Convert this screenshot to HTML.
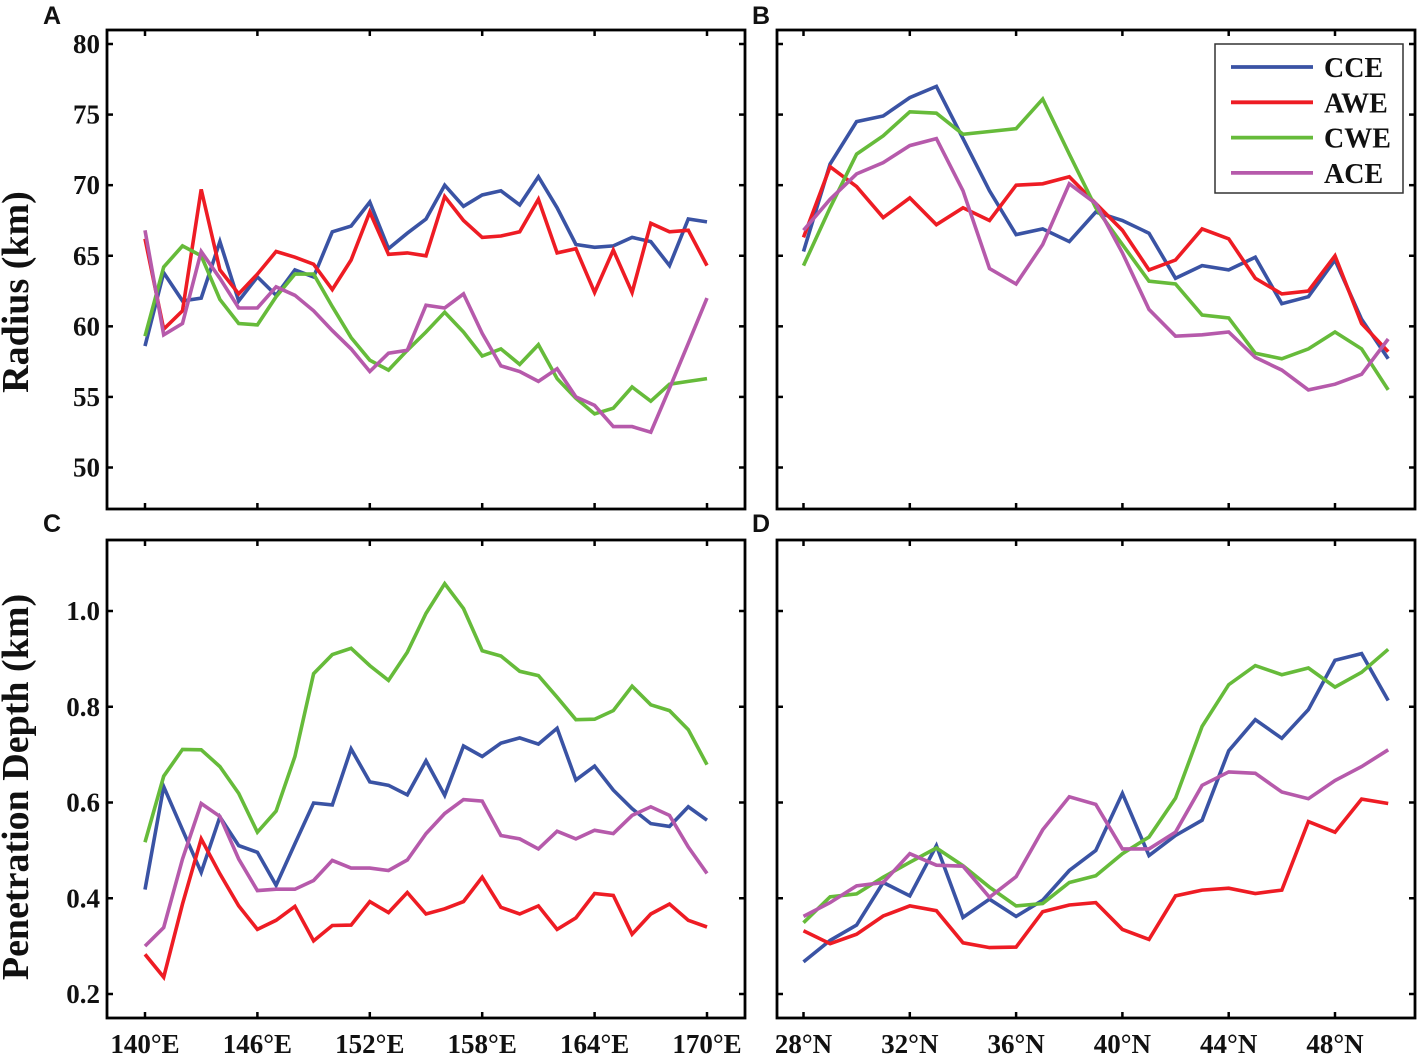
<!DOCTYPE html>
<html><head><meta charset="utf-8"><style>
html,body{margin:0;padding:0;background:#fff;}
svg{display:block;}
text{font-family:"Liberation Serif",serif;font-weight:bold;fill:#111;}
.lt{font-family:"Liberation Sans",sans-serif;}
</style></head><body>
<svg id="fig" width="1417" height="1054" viewBox="0 0 1417 1054" xmlns="http://www.w3.org/2000/svg"></svg>
<script>
// ---- data ----
const lonCats = [140,141,142,143,144,145,146,147,148,149,150,151,152,153,154,155,156,157,158,159,160,161,162,163,164,165,166,167,168,169,170];
const latCats = [28,29,30,31,32,33,34,35,36,37,38,39,40,41,42,43,44,45,46,47,48,49,50];
const seriesNames = ['CCE','AWE','CWE','ACE'];
const seriesColors = ['#3a53a4','#ee1c24','#66bb3a','#b65aab'];
// Panel A radius vs longitude
const aCCE = [58.6,63.8,61.8,62.0,66.0,61.8,63.5,62.2,64.0,63.5,66.7,67.1,68.8,65.5,66.6,67.6,70.0,68.5,69.3,69.6,68.6,70.6,68.4,65.8,65.6,65.7,66.3,66.0,64.3,67.6,67.4];
const aAWE = [66.2,59.8,61.1,69.7,64.0,62.3,63.7,65.3,64.9,64.4,62.6,64.7,68.1,65.1,65.2,65.0,69.2,67.5,66.3,66.4,66.7,69.0,65.2,65.5,62.4,65.4,62.4,67.3,66.7,66.8,64.3];
const aCWE = [59.3,64.2,65.7,65.0,61.9,60.2,60.1,62.1,63.7,63.7,61.4,59.2,57.6,56.9,58.3,59.6,61.0,59.6,57.9,58.4,57.3,58.7,56.3,54.9,53.8,54.2,55.7,54.7,55.9,56.1,56.3];
const aACE = [66.8,59.4,60.2,65.3,63.4,61.3,61.3,62.8,62.2,61.1,59.7,58.4,56.8,58.1,58.3,61.5,61.3,62.3,59.5,57.2,56.8,56.1,57.0,55.0,54.4,52.9,52.9,52.5,55.6,58.8,62.0];
// Panel B radius vs latitude
const bCCE = [65.3,71.5,74.5,74.9,76.2,77.0,73.3,69.6,66.5,66.9,66.0,68.1,67.5,66.6,63.4,64.3,64.0,64.9,61.6,62.1,64.7,60.5,57.7];
const bAWE = [66.3,71.3,69.9,67.7,69.1,67.2,68.4,67.5,70.0,70.1,70.6,68.7,66.8,64.0,64.7,66.9,66.2,63.4,62.3,62.5,65.0,60.2,58.2];
const bCWE = [64.3,68.4,72.2,73.5,75.2,75.1,73.6,73.8,74.0,76.1,72.2,68.4,65.8,63.2,63.0,60.8,60.6,58.1,57.7,58.4,59.6,58.4,55.5];
const bACE = [66.8,69.0,70.8,71.6,72.8,73.3,69.6,64.1,63.0,65.8,70.1,68.7,65.2,61.2,59.3,59.4,59.6,57.8,56.9,55.5,55.9,56.6,59.1];
// Panel C depth vs longitude
const cCCE = [0.418,0.633,0.543,0.454,0.570,0.510,0.496,0.427,0.514,0.599,0.595,0.712,0.643,0.636,0.616,0.687,0.615,0.718,0.696,0.724,0.735,0.722,0.755,0.647,0.676,0.626,0.587,0.556,0.550,0.591,0.563];
const cAWE = [0.283,0.235,0.388,0.524,0.451,0.384,0.335,0.354,0.383,0.311,0.343,0.344,0.393,0.370,0.412,0.367,0.378,0.393,0.444,0.381,0.367,0.384,0.335,0.359,0.410,0.406,0.325,0.367,0.388,0.354,0.340];
const cCWE = [0.517,0.655,0.711,0.710,0.675,0.619,0.538,0.582,0.696,0.869,0.909,0.922,0.886,0.855,0.914,0.995,1.057,1.005,0.917,0.906,0.874,0.865,0.820,0.773,0.774,0.792,0.843,0.804,0.792,0.752,0.679];
const cACE = [0.300,0.339,0.482,0.598,0.571,0.482,0.416,0.419,0.419,0.437,0.479,0.463,0.463,0.458,0.480,0.535,0.577,0.606,0.603,0.531,0.524,0.503,0.540,0.524,0.542,0.535,0.573,0.591,0.573,0.507,0.452];
// Panel D depth vs latitude
const dCCE = [0.267,0.312,0.344,0.433,0.405,0.510,0.360,0.398,0.362,0.396,0.458,0.500,0.619,0.489,0.531,0.563,0.708,0.773,0.734,0.794,0.897,0.911,0.813];
const dAWE = [0.332,0.305,0.325,0.363,0.384,0.374,0.307,0.297,0.298,0.372,0.386,0.391,0.335,0.314,0.405,0.417,0.421,0.410,0.417,0.560,0.538,0.607,0.598];
const dCWE = [0.349,0.403,0.409,0.444,0.475,0.505,0.468,0.423,0.384,0.389,0.433,0.447,0.493,0.528,0.609,0.759,0.846,0.886,0.867,0.881,0.841,0.872,0.920];
const dACE = [0.362,0.391,0.426,0.433,0.493,0.469,0.467,0.402,0.445,0.543,0.612,0.596,0.503,0.503,0.538,0.636,0.664,0.661,0.622,0.608,0.646,0.675,0.710];
const radiusTicks = [50,55,60,65,70,75,80];
const depthTicks = [0.2,0.4,0.6,0.8,1.0];
const lonTicks = [140,146,152,158,164,170];
const latTicks = [28,32,36,40,44,48];
const lonTickLabels = ['140°E','146°E','152°E','158°E','164°E','170°E'];
const latTickLabels = ['28°N','32°N','36°N','40°N','44°N','48°N'];

const NS='http://www.w3.org/2000/svg';
const svg=document.getElementById('fig');
function mk(tag,attrs,parent){const e=document.createElementNS(NS,tag);for(const k in attrs)e.setAttribute(k,attrs[k]);(parent||svg).appendChild(e);return e;}

function linScale(d0,d1,r0,r1){return v=>r0+(v-d0)*(r1-r0)/(d1-d0);}
const xLon=linScale(140,170,145,707);
const xLat=linScale(28,48,803.5,1335);
const yRad=linScale(50,80,467.5,44);
const yDep=linScale(0.2,1.0,994,611);

function panel(id,box,xs,ys,xTickVals,xTickLbls,showX,yTickVals,yFmt,cats,series,letter,lx,ly){
  const g=mk('g',{});
  
  
  const [x0,y0,x1,y1]=box;
  const t=mk('text',{x:lx,y:ly,'font-size':25,class:'lt'},g);
  t.textContent=letter;
  
  
  series.forEach((vals,si)=>{
    const pts=vals.map((v,i)=>xs(cats[i]).toFixed(1)+','+ys(v).toFixed(1)).join(' ');
    const pl=mk('polyline',{points:pts,fill:'none',stroke:seriesColors[si],'stroke-width':3.6,'stroke-linejoin':'miter'},g);
    
    
  });
  const fr=mk('rect',{x:x0,y:y0,width:x1-x0,height:y1-y0,fill:'none',stroke:'#000','stroke-width':2.8},g);
  
  
  xTickVals.forEach((v,i)=>{
    const x=xs(v);
    mk('line',{x1:x,x2:x,y1:y1,y2:y1-6,stroke:'#000','stroke-width':2.5},g);
    mk('line',{x1:x,x2:x,y1:y0,y2:y0+6,stroke:'#000','stroke-width':2.5},g);
    if(showX){
      const tl=mk('text',{x:x,y:1053,'font-size':27,'text-anchor':'middle'},g);
      tl.textContent=xTickLbls[i];
      
      
    }
  });
  yTickVals.forEach(v=>{
    const y=ys(v);
    mk('line',{x1:x0,x2:x0+6,y1:y,y2:y,stroke:'#000','stroke-width':2.5},g);
    mk('line',{x1:x1,x2:x1-6,y1:y,y2:y,stroke:'#000','stroke-width':2.5},g);
    if(yFmt){
      const tl=mk('text',{x:x0-7,y:y+9,'font-size':27,'text-anchor':'end'},g);
      tl.textContent=yFmt(v);
      
      
    }
  });
}
panel('a',[107,30,745,509],xLon,yRad,lonTicks,lonTickLabels,false,radiusTicks,v=>String(v),lonCats,[aCCE,aAWE,aCWE,aACE],'A',43,24);
panel('b',[777,30,1415,509],xLat,yRad,latTicks,latTickLabels,false,radiusTicks,null,latCats,[bCCE,bAWE,bCWE,bACE],'B',752,24);
panel('c',[107,540,745,1018],xLon,yDep,lonTicks,lonTickLabels,true,depthTicks,v=>v.toFixed(1),lonCats,[cCCE,cAWE,cCWE,cACE],'C',43,532);
panel('d',[777,540,1415,1018],xLat,yDep,latTicks,latTickLabels,true,depthTicks,null,latCats,[dCCE,dAWE,dCWE,dACE],'D',752,532);

const yt1=mk('text',{x:0,y:0,'font-size':38,'text-anchor':'middle',transform:'translate(28,292) rotate(-90)'});
yt1.textContent='Radius (km)';


const yt2=mk('text',{x:0,y:0,'font-size':38,'text-anchor':'middle',transform:'translate(28,787) rotate(-90)'});
yt2.textContent='Penetration Depth (km)';



const lg=mk('g',{});


mk('rect',{x:1215,y:44,width:188,height:149,fill:'#fff',stroke:'#333','stroke-width':1.5},lg);
seriesNames.forEach((n,i)=>{
  const y=67+i*35.3;
  const ln=mk('line',{x1:1231,x2:1313,y1:y,y2:y,stroke:seriesColors[i],'stroke-width':3.8},lg);
  
  
  const tx=mk('text',{x:1324,y:y+10,'font-size':28},lg);
  tx.textContent=n;
  
  
});
</script>
</body></html>
